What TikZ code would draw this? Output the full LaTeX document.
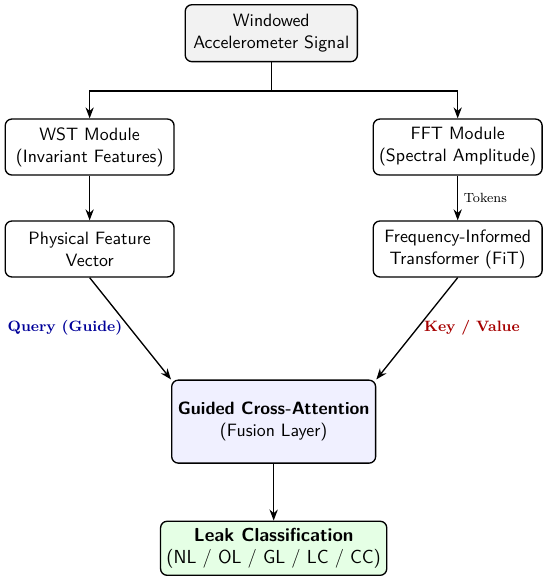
\documentclass[tikz,border=0pt]{standalone}
\usepackage{amsmath}
\usepackage{tikz}
\usetikzlibrary{arrows.meta,positioning,calc}

\begin{document}
\begin{tikzpicture}[
    block/.style={draw, rounded corners=4pt, align=center, minimum width=3.56cm, minimum height=1.18cm, thick, font=\sffamily\fontsize{10.7}{13.2}\selectfont},
    flow/.style={-Stealth, thick}
  ]
    \useasboundingbox (0,0) rectangle (11.6,-12.25);
    \node[block, fill=gray!10, minimum width=3.63cm, minimum height=1.2cm] (sig) at (5.72,-0.70) {Windowed\\Accelerometer Signal};
    \node[block] (wst) at (1.89,-3.10) {WST Module\\(Invariant Features)};
    \node[block] (fft) at (9.65,-3.10) {FFT Module\\(Spectral Amplitude)};
    \node[block] (phys) at (1.89,-5.25) {Physical Feature\\Vector};
    \node[block] (fit) at (9.65,-5.25) {Frequency-Informed\\Transformer (FiT)};
    \node[block, fill=blue!6, minimum width=4.30cm, minimum height=1.75cm] (gca) at (5.77,-8.89) {\textbf{Guided Cross-Attention}\\(Fusion Layer)};
    \node[block, fill=green!10, minimum width=4.77cm, minimum height=1.14cm, font=\sffamily\fontsize{11.3}{13.5}\selectfont] (leak) at (5.77,-11.56) {\textbf{Leak Classification}\\(NL / OL / GL / LC / CC)};
    \coordinate (split) at (5.72,-1.92);
    \draw[thick] (sig.south) -- (split);
    \draw[flow] (split) -| (wst.north);
    \draw[flow] (split) -| (fft.north);
    \draw[flow] (wst) -- (phys);
    \draw[flow] (fft) -- node[right, font=\footnotesize] {Tokens} (fit);
    \draw[flow] (phys.south) -- (gca.north west);
    \draw[flow] (fit.south) -- (gca.north east);
    \draw[flow] (gca) -- (leak);
    \node[font=\small\bfseries, text=blue!60!black] (qlbl) at (1.37,-6.90) {Query (Guide)};
    \node[font=\small\bfseries, text=red!65!black] (klbl) at (9.95,-6.90) {Key / Value};
  \end{tikzpicture}
\end{document}
